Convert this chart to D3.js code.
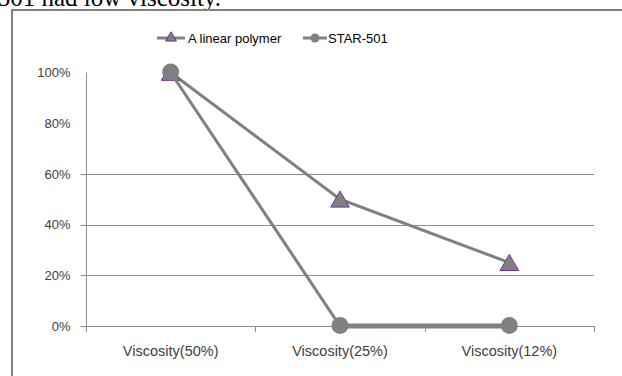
<!DOCTYPE html>
<html>
<head>
<meta charset="utf-8">
<script src="https://cdn.jsdelivr.net/npm/d3@7"></script>
<style>
  html, body { margin: 0; padding: 0; background: #fff; }
  svg { display: block; }
</style>
</head>
<body>
<svg id="chart" width="622" height="376"></svg>
<script>
// Relative viscosity retained at each dilution step
const categories = ["Viscosity(50%)", "Viscosity(25%)", "Viscosity(12%)"];
const linearPolymer = [100, 50, 25];
const star501 = [100, 0, 0];
const yTicks = [0, 20, 40, 60, 80, 100];
const gridTicks = [0, 20, 40, 60];
const seriesNames = ["A linear polymer", "STAR-501"];

const svg = d3.select("#chart");
const W = 622, H = 376;
const plot = { left: 86, right: 594, top: 72.5, bottom: 326 };
const grey = "#808080";
const labelFont = "'Liberation Sans', Arial, sans-serif";

// Caption line of the surrounding text, mostly above the frame
svg.append("text")
  .attr("x", 221).attr("y", 5.5)
  .attr("text-anchor", "end")
  .attr("font-family", "'Liberation Serif', 'Times New Roman', serif")
  .attr("font-size", 25)
  .attr("fill", "#000")
  .text("STAR-501 had low viscosity.");

// Chart frame
svg.append("path")
  .attr("d", `M12,${H + 2} L12,10 L${W + 2},10`)
  .attr("fill", "#fff")
  .attr("stroke", grey)
  .attr("stroke-width", 2);

const x = d3.scaleBand().domain(categories).range([plot.left, plot.right]);
const y = d3.scaleLinear().domain([0, 100]).range([plot.bottom, plot.top]);
const cx = d => x(d) + x.bandwidth() / 2;

// Horizontal gridlines
svg.append("g")
  .selectAll("line")
  .data(gridTicks)
  .join("line")
  .attr("x1", plot.left - 5).attr("x2", plot.right)
  .attr("y1", d => Math.round(y(d)) + 0.5).attr("y2", d => Math.round(y(d)) + 0.5)
  .attr("stroke", "#8c8c8c").attr("stroke-width", 1);

// Y axis
const yAxis = svg.append("g")
  .attr("transform", `translate(${plot.left + 0.5},0)`)
  .call(d3.axisLeft(y).tickValues(yTicks).tickFormat(d => d + "%").tickSize(0).tickPadding(16));
yAxis.select(".domain").remove();
yAxis.selectAll("text")
  .attr("font-family", labelFont).attr("font-size", 13).attr("fill", "#404040");
svg.append("line")
  .attr("x1", plot.left + 0.5).attr("x2", plot.left + 0.5)
  .attr("y1", plot.top).attr("y2", plot.bottom + 6)
  .attr("stroke", "#8c8c8c").attr("stroke-width", 1);

// X axis: boundary ticks between categories
const xAxis = svg.append("g")
  .attr("transform", `translate(0,${Math.round(plot.bottom) + 0.5})`)
  .call(d3.axisBottom(x).tickSize(0).tickPadding(19));
xAxis.select(".domain").remove();
xAxis.selectAll("text")
  .attr("font-family", labelFont).attr("font-size", 14.5).attr("fill", "#404040");
const bounds = categories.map(c => x(c)).concat([x(categories[categories.length - 1]) + x.bandwidth()]);
svg.append("g").selectAll("line")
  .data(bounds.slice(1))
  .join("line")
  .attr("x1", d => Math.round(d) + 0.5).attr("x2", d => Math.round(d) + 0.5)
  .attr("y1", plot.bottom).attr("y2", plot.bottom + 6)
  .attr("stroke", "#8c8c8c").attr("stroke-width", 1);

const line = d3.line().x((d, i) => cx(categories[i])).y(d => y(d));
const triangle = d3.symbol().type(d3.symbolTriangle).size(150);

// Linear polymer series
svg.append("path")
  .datum(linearPolymer)
  .attr("d", line)
  .attr("fill", "none").attr("stroke", grey).attr("stroke-width", 3);
svg.append("g").selectAll("path")
  .data(linearPolymer)
  .join("path")
  .attr("d", triangle)
  .attr("transform", (d, i) => `translate(${cx(categories[i])},${y(d) + 2.5})`)
  .attr("fill", grey).attr("stroke", "#7030a0").attr("stroke-width", 1);

// STAR-501 series
svg.append("path")
  .datum(star501)
  .attr("d", line)
  .attr("fill", "none").attr("stroke", grey).attr("stroke-width", 3);
svg.append("path")
  .attr("d", `M${cx(categories[1])},${y(0)} L${cx(categories[2])},${y(0)}`)
  .attr("stroke", grey).attr("stroke-width", 5);
svg.append("g").selectAll("circle")
  .data(star501)
  .join("circle")
  .attr("cx", (d, i) => cx(categories[i]))
  .attr("cy", d => y(d) - 0.5)
  .attr("r", 8.5)
  .attr("fill", grey);

// Legend
const legend = svg.append("g").attr("font-family", labelFont).attr("font-size", 13).attr("fill", "#000");
const ly = 38;
legend.append("line").attr("x1", 157).attr("x2", 185).attr("y1", ly).attr("y2", ly)
  .attr("stroke", grey).attr("stroke-width", 3);
legend.append("path").attr("d", d3.symbol().type(d3.symbolTriangle).size(50))
  .attr("transform", `translate(171,${ly})`)
  .attr("fill", grey).attr("stroke", "#7030a0").attr("stroke-width", 1);
legend.append("text").attr("x", 188).attr("y", ly).attr("dy", "0.35em").text(seriesNames[0]);
legend.append("line").attr("x1", 303).attr("x2", 327).attr("y1", ly).attr("y2", ly)
  .attr("stroke", grey).attr("stroke-width", 3);
legend.append("circle").attr("cx", 315).attr("cy", ly).attr("r", 4.5).attr("fill", grey);
legend.append("text").attr("x", 328).attr("y", ly).attr("dy", "0.35em").text(seriesNames[1]);
</script>
</body>
</html>
